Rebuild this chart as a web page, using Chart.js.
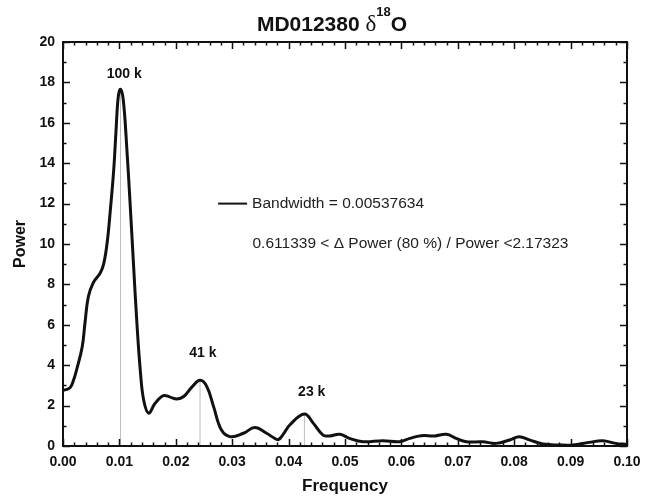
<!DOCTYPE html>
<html>
<head>
<meta charset="utf-8">
<title>MD012380 spectrum</title>
<script src="https://cdn.jsdelivr.net/npm/chart.js@4.4.1/dist/chart.umd.min.js"></script>
<style>
    html, body { margin: 0; padding: 0; background: #ffffff; }
    #wrap { width: 653px; height: 497px; }
</style>
</head>
<body>
<div id="wrap"><canvas id="spectrum-data-set" width="653" height="497"></canvas></div>
<script>
let spectrumChart; // global like the other pages

// power spectrum
const frequency = [0.0000, 0.0007, 0.0013, 0.0018, 0.0024, 0.0034, 0.0039, 0.0045, 0.0054, 0.0066,
    0.0072, 0.0078, 0.0084, 0.0090, 0.0094, 0.0098, 0.0102, 0.0107, 0.0113, 0.0119,
    0.0125, 0.0131, 0.0137, 0.0143, 0.0152, 0.0163, 0.0178, 0.0190, 0.0202, 0.0214,
    0.0228, 0.0243, 0.0255, 0.0267, 0.0281, 0.0297, 0.0320, 0.0340, 0.0361, 0.0373,
    0.0382, 0.0391, 0.0402, 0.0428, 0.0444, 0.0461, 0.0473, 0.0491, 0.0508, 0.0532,
    0.0567, 0.0597, 0.0615, 0.0635, 0.0659, 0.0680, 0.0697, 0.0715, 0.0744, 0.0768,
    0.0792, 0.0809, 0.0827, 0.0851, 0.0880, 0.0904, 0.0933, 0.0957, 0.0980, 0.1000];
const power = [2.77, 2.80, 2.90, 3.20, 3.76, 4.90, 6.10, 7.40, 8.10, 8.56,
    9.00, 10.0, 11.7, 13.7, 15.6, 17.3, 17.66, 17.1, 14.8, 12.0,
    9.0, 6.1, 3.76, 2.28, 1.62, 2.10, 2.49, 2.42, 2.33, 2.45,
    2.90, 3.25, 2.94, 1.95, 0.79, 0.46, 0.63, 0.91, 0.63, 0.42,
    0.32, 0.60, 1.04, 1.58, 1.12, 0.54, 0.50, 0.58, 0.38, 0.21,
    0.26, 0.21, 0.38, 0.51, 0.50, 0.58, 0.38, 0.21, 0.21, 0.13,
    0.30, 0.46, 0.30, 0.10, 0.05, 0.05, 0.18, 0.26, 0.13, 0.08];

// orbital peaks (vertical grey markers)
const peakNames = ['100 k', '41 k', '23 k'];
const peakFreq = [0.0102, 0.0243, 0.0428];
const peakPower = [17.66, 3.25, 1.58];
// where the peak names sit, in data units
const peakLabelFreq = [0.01085, 0.0248, 0.0441];
const peakLabelPower = [18.42, 4.6, 2.67];

// legend text block, in data units
const legendText = ['Bandwidth = 0.00537634', '0.611339 < \u0394 Power (80 %) / Power <2.17323'];
const legendFreq = [0.0275, 0.0336];
const legendPower = [12.0, 10.0];

const titleMain = 'MD012380 ';
const titleSymbol = '\u03b4';
const titleSup = '18';
const titleTail = 'O';

const xTickStep = 0.01;
const yTickStep = 2;

const SANS = "'Liberation Sans', Arial, sans-serif";

window.onload = function () {
    CreateSpectrumGraph();
};

function buildPeakDatasets() {
    return peakFreq.map((f, i) => ({
        label: peakNames[i],
        data: [{ x: f, y: 0 }, { x: f, y: peakPower[i] }],
        borderColor: '#bdbdbd',
        borderWidth: 1,
        pointRadius: 0,
        tension: 0,
        fill: false,
        order: 2
    }));
}

// title with the delta + superscript, drawn in the top padding
const titlePlugin = {
    id: 'titlePlugin',
    afterDraw(chart) {
        const ctx = chart.ctx;
        const parts = [
            { t: titleMain, font: 'bold 21px ' + SANS, dy: 0 },
            { t: titleSymbol, font: "23px 'Liberation Serif', serif", dy: 0 },
            { t: titleSup, font: 'bold 13px ' + SANS, dy: -15 },
            { t: titleTail, font: 'bold 21px ' + SANS, dy: 0 }
        ];
        ctx.save();
        let total = 0;
        parts.forEach(p => { ctx.font = p.font; p.w = ctx.measureText(p.t).width; total += p.w; });
        let x = 332 - total / 2;
        const base = 31;
        ctx.fillStyle = '#111';
        ctx.textBaseline = 'alphabetic';
        ctx.textAlign = 'left';
        parts.forEach(p => {
            ctx.font = p.font;
            ctx.fillText(p.t, x, base + p.dy);
            x += p.w;
        });
        ctx.restore();
    }
};

// box round the plot with inward ticks on all four sides
const framePlugin = {
    id: 'framePlugin',
    afterDatasetsDraw(chart) {
        const { ctx, chartArea: a, scales } = chart;
        const xs = scales.x, ys = scales.y;
        ctx.save();
        ctx.strokeStyle = '#111';
        ctx.lineWidth = 1.5;
        ctx.beginPath();
        for (let i = 0; i <= 50; i++) {
            const px = Math.round(xs.getPixelForValue(i * 0.002)) + 0.5;
            const len = i % 5 === 0 ? 7 : 3.5;
            ctx.moveTo(px, a.bottom); ctx.lineTo(px, a.bottom - len);
            ctx.moveTo(px, a.top); ctx.lineTo(px, a.top + len);
        }
        for (let i = 0; i <= 20; i++) {
            const py = Math.round(ys.getPixelForValue(i)) + 0.5;
            const len = i % 2 === 0 ? 7 : 3.5;
            ctx.moveTo(a.left, py); ctx.lineTo(a.left + len, py);
            ctx.moveTo(a.right, py); ctx.lineTo(a.right - len, py);
        }
        ctx.stroke();
        ctx.lineWidth = 2;
        ctx.strokeRect(a.left, a.top, a.right - a.left, a.bottom - a.top);
        ctx.restore();
    }
};

// peak names and the bandwidth note
const notesPlugin = {
    id: 'notesPlugin',
    afterDatasetsDraw(chart) {
        const { ctx, scales } = chart;
        const xs = scales.x, ys = scales.y;
        ctx.save();
        ctx.fillStyle = '#111';
        ctx.font = 'bold 14px ' + SANS;
        ctx.textAlign = 'center';
        ctx.textBaseline = 'middle';
        peakNames.forEach((name, i) => {
            ctx.fillText(name, xs.getPixelForValue(peakLabelFreq[i]), ys.getPixelForValue(peakLabelPower[i]));
        });

        // legend line sample
        const ly = ys.getPixelForValue(legendPower[0]);
        const lx = xs.getPixelForValue(legendFreq[0]);
        ctx.strokeStyle = '#111';
        ctx.lineWidth = 2;
        ctx.beginPath();
        ctx.moveTo(lx, ly);
        ctx.lineTo(lx + 29, ly);
        ctx.stroke();

        ctx.font = '15.5px ' + SANS;
        ctx.textAlign = 'left';
        ctx.fillStyle = '#222';
        ctx.fillText(legendText[0], lx + 34, ly);
        ctx.fillText(legendText[1], xs.getPixelForValue(legendFreq[1]), ys.getPixelForValue(legendPower[1]));
        ctx.restore();
    }
};

function CreateSpectrumGraph() {
    console.log('Creating spectrum graph');
    const ctx = document.getElementById('spectrum-data-set').getContext('2d');
    const points = frequency.map((f, i) => ({ x: f, y: power[i] }));

    spectrumChart = new Chart(ctx, {
        type: 'line',
        data: {
            datasets: [{
                label: 'Power',
                data: points,
                borderColor: '#111',
                borderWidth: 3,
                pointRadius: 0,
                fill: false,
                tension: 0.4,
                borderJoinStyle: 'round',
                order: 1
            }, ...buildPeakDatasets()]
        },
        options: {
            responsive: false,
            devicePixelRatio: 1,
            animation: false,
            layout: { padding: { left: 0, right: 26, top: 42, bottom: 0 } },
            plugins: {
                legend: { display: false },
                tooltip: { enabled: false },
                title: { display: false }
            },
            scales: {
                x: {
                    type: 'linear',
                    min: 0,
                    max: 0.1,
                    grid: { display: false, drawTicks: false },
                    border: { display: false },
                    ticks: {
                        stepSize: xTickStep,
                        padding: 8,
                        color: '#111',
                        font: { family: SANS, size: 14, weight: 'bold' },
                        callback: v => v.toFixed(2)
                    },
                    title: {
                        display: true,
                        text: 'Frequency',
                        color: '#111',
                        font: { family: SANS, size: 17, weight: 'bold' },
                        padding: { top: 0, bottom: 0 }
                    },
                    afterFit: s => { s.height = 51; }
                },
                y: {
                    min: 0,
                    max: 20,
                    grid: { display: false, drawTicks: false },
                    border: { display: false },
                    ticks: {
                        stepSize: yTickStep,
                        padding: 8,
                        color: '#111',
                        font: { family: SANS, size: 14, weight: 'bold' }
                    },
                    title: {
                        display: true,
                        text: 'Power',
                        color: '#111',
                        font: { family: SANS, size: 16, weight: 'bold' },
                        padding: { top: 11, bottom: 0 }
                    },
                    afterFit: s => { s.width = 63; }
                }
            }
        },
        plugins: [titlePlugin, framePlugin, notesPlugin]
    });
    console.log('spectrum graph created');
}
</script>
</body>
</html>
